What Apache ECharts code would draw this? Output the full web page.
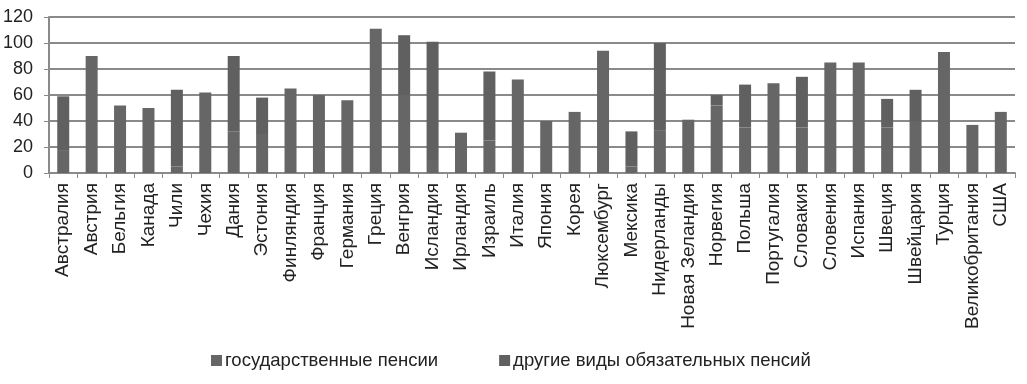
<!DOCTYPE html>
<html>
<head>
<meta charset="utf-8">
<script src="https://cdn.jsdelivr.net/npm/echarts@6/dist/echarts.min.js"></script>
<style>
  html, body { margin: 0; padding: 0; background: #fff; }
  #chart { width: 1027px; height: 384px; }
</style>
</head>
<body>
<div id="chart"></div>
<script>
// страны ОЭСР
const countries = [
  'Австралия', 'Австрия', 'Бельгия', 'Канада', 'Чили', 'Чехия', 'Дания', 'Эстония',
  'Финляндия', 'Франция', 'Германия', 'Греция', 'Венгрия', 'Исландия', 'Ирландия',
  'Израиль', 'Италия', 'Япония', 'Корея', 'Люксембург', 'Мексика', 'Нидерланды',
  'Новая Зеландия', 'Норвегия', 'Польша', 'Португалия', 'Словакия', 'Словения',
  'Испания', 'Швеция', 'Швейцария', 'Турция', 'Великобритания', 'США'
]

// государственные пенсии (нижняя часть столбца)
const statePensions = [
  17, 90, 52, 50, 5, 62, 32, 30,
  65, 60, 56, 111, 60, 10, 31,
  25, 72, 40, 47, 94, 5, 33,
  41, 52, 35, 69, 35, 85,
  85, 35, 40, 93, 37, 47
]

// другие виды обязательных пенсий (верхняя часть)
const otherPensions = [
  42, 0, 0, 0, 59, 0, 58, 28,
  0, 0, 0, 0, 46, 91, 0,
  53, 0, 0, 0, 0, 27, 67,
  0, 8, 33, 0, 39, 0,
  0, 22, 24, 0, 0, 0
]

const seriesNames = ['государственные пенсии', 'другие виды обязательных пенсий']

const chart = echarts.init(document.getElementById('chart'))

const font = 'Liberation Sans, Arial, sans-serif'

const option = {
  animation: false,
  backgroundColor: '#fff',
  textStyle: { fontFamily: font },
  grid: { left: 49, right: 12, top: 17, bottom: 211 },
  legend: {
    left: 206,
    top: 346,
    itemWidth: 11,
    itemHeight: 11,
    itemGap: 61,
    icon: 'rect',
    textStyle: { fontFamily: font, fontSize: 18.5, color: '#222', padding: [0, 0, 0, -2] },
    data: seriesNames,
  },
  xAxis: {
    type: 'category',
    data: countries,
    axisLine: { lineStyle: { color: '#8a8a8a', width: 2 } },
    axisTick: { show: true, length: 5, lineStyle: { color: '#8a8a8a', width: 1 } },
    axisLabel: {
      interval: 0,
      rotate: 90,
      fontSize: 19,
      color: '#222',
      margin: 10,
      fontFamily: font,
    },
  },
  yAxis: {
    type: 'value',
    min: 0,
    max: 120,
    interval: 20,
    axisLine: { show: true, lineStyle: { color: '#8a8a8a', width: 2 } },
    axisTick: { show: true, length: 5, lineStyle: { color: '#8a8a8a', width: 1 } },
    axisLabel: { fontSize: 18, color: '#222', margin: 16, fontFamily: font },
    splitLine: { lineStyle: { color: '#8a8a8a', width: 2 } },
  },
  series: [
    {
      name: seriesNames[0],
      type: 'bar',
      stack: 'total',
      barWidth: 12,
      itemStyle: { color: '#666666' },
      data: statePensions,
    },
    {
      name: seriesNames[1],
      type: 'bar',
      stack: 'total',
      barWidth: 12,
      itemStyle: { color: '#606060' },
      data: otherPensions,
    },
  ],
}

chart.setOption(option)
</script>
</body>
</html>
